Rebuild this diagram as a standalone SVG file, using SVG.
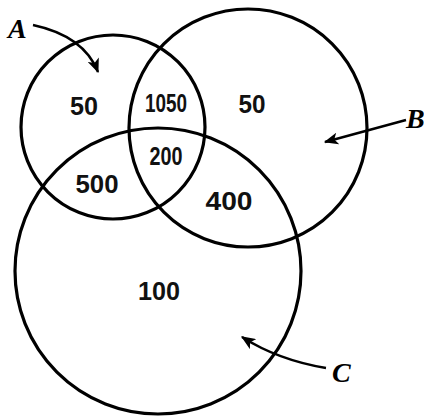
<svg xmlns="http://www.w3.org/2000/svg" width="424" height="419" viewBox="0 0 424 419">
  <defs>
    <marker id="arr" viewBox="0 0 12 10" refX="11" refY="5" markerWidth="15" markerHeight="12" markerUnits="userSpaceOnUse" orient="auto">
      <path d="M0,0 L12,5 L0,10 L3,5 Z" fill="#000"/>
    </marker>
  </defs>
  <style>
    .set { fill: none; stroke: #000; stroke-width: 3.2; }
    .num { font-family: "Liberation Sans", Arial, sans-serif; font-weight: bold; font-size: 26px; fill: #111; text-anchor: middle; }
    .lbl { font-family: "Liberation Serif", "Times New Roman", serif; font-style: italic; font-weight: bold; font-size: 28px; fill: #000; }
    .arrow { fill: none; stroke: #000; stroke-width: 2.4; marker-end: url(#arr); }
  </style>
  <rect width="424" height="419" fill="#fff"/>
  <g id="setA">
    <circle class="set" cx="113" cy="127" r="92"/>
    <text class="lbl" x="8" y="38">A</text>
  </g>
  <g id="setB">
    <circle class="set" cx="248" cy="128" r="119"/>
    <text class="lbl" x="406" y="128">B</text>
  </g>
  <g id="setC">
    <circle class="set" cx="158" cy="271" r="143"/>
    <text class="lbl" x="332" y="382">C</text>
  </g>
  <g id="regions">
    <text class="num" x="84" y="115" textLength="28" lengthAdjust="spacingAndGlyphs">50</text>
    <text class="num" x="166" y="112" textLength="42" lengthAdjust="spacingAndGlyphs">1050</text>
    <text class="num" x="252" y="113" textLength="27" lengthAdjust="spacingAndGlyphs">50</text>
    <text class="num" x="166" y="165" textLength="33" lengthAdjust="spacingAndGlyphs">200</text>
    <text class="num" x="97" y="193" textLength="43" lengthAdjust="spacingAndGlyphs">500</text>
    <text class="num" x="229" y="210" textLength="47" lengthAdjust="spacingAndGlyphs">400</text>
    <text class="num" x="159" y="300" textLength="42" lengthAdjust="spacingAndGlyphs">100</text>
  </g>
  <g id="connectors">
    <path class="arrow" d="M33,25 Q84,36 98,72"/>
    <path class="arrow" d="M406,120 L325,142"/>
    <path class="arrow" d="M326,368 Q278,360 242,337"/>
  </g>
</svg>
